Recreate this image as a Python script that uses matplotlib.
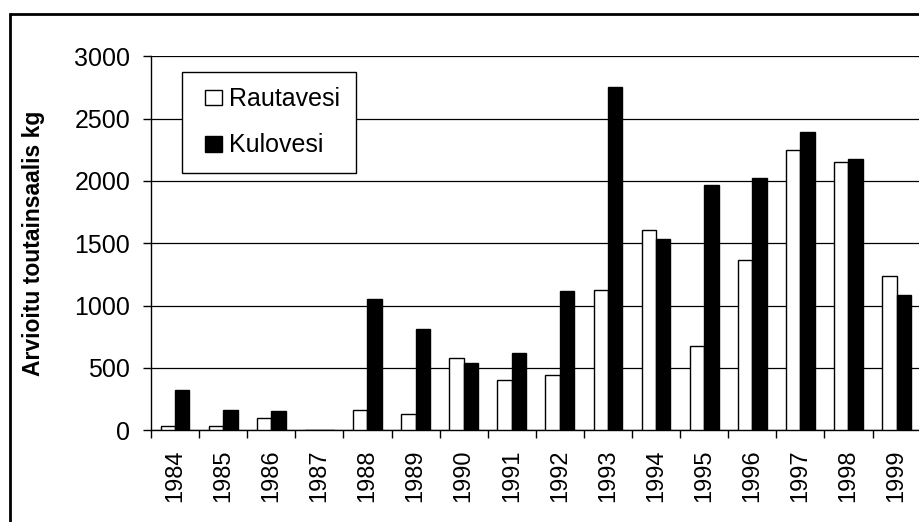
import matplotlib
matplotlib.use("Agg")
import matplotlib.pyplot as plt
import matplotlib.patches as patches
from matplotlib.container import BarContainer
from matplotlib.legend_handler import HandlerPatch
import numpy as np

# data
years = ["1984", "1985", "1986", "1987", "1988", "1989", "1990", "1991",
         "1992", "1993", "1994", "1995", "1996", "1997", "1998", "1999"]
rautavesi = [35, 35, 100, 0, 163, 133, 582, 406,
             441, 1128, 1609, 679, 1368, 2248, 2152, 1238]
kulovesi = [325, 165, 152, 0, 1051, 810, 537, 618,
            1115, 2751, 1532, 1965, 2026, 2395, 2174, 1083]

plt.rcParams['font.family'] = ['Liberation Sans', 'DejaVu Sans']

fig = plt.figure(figsize=(9.2, 5.22), dpi=100)
W, H = 920, 522
ax = fig.add_axes([151 / W, (H - 430.3) / H, 769.6 / W, 374 / H])

x = np.arange(len(years))
bw = 0.3
ax.bar(x - bw / 2, rautavesi, bw, color='white', edgecolor='black',
       linewidth=1.0, label='Rautavesi', zorder=3)
ax.bar(x + bw / 2, kulovesi, bw, color='black', edgecolor='black',
       linewidth=1.0, label='Kulovesi', zorder=3)

ax.set_xlim(-0.5, len(years) - 0.5)
ax.set_ylim(0, 3000)
ax.set_yticks(np.arange(0, 3001, 500))
ax.yaxis.grid(True, color='black', linewidth=0.9, zorder=0)
ax.set_axisbelow(True)

ax.set_xticks(x)
ax.set_xticklabels(years, rotation=90)
ax.set_xticks(np.arange(-0.5, len(years)), minor=True)
ax.tick_params(axis='x', which='major', length=0, pad=14, labelsize=17)
ax.tick_params(axis='x', which='minor', length=6, width=1, direction='out')
ax.tick_params(axis='y', length=6, width=1, pad=9, labelsize=18)

for s in ['top', 'right']:
    ax.spines[s].set_visible(False)
ax.spines['left'].set_linewidth(1)
ax.spines['bottom'].set_linewidth(1)

ax.set_ylabel('Arvioitu toutainsaalis kg', fontsize=16.5, fontweight='bold')
ax.yaxis.set_label_coords(-0.138, 0.5)


# small square legend key sitting at the right of its handle box
def square_key(legend, orig_handle, xdescent, ydescent, width, height, fontsize):
    sw = 0.67 * fontsize
    sh = 0.62 * fontsize
    return patches.Rectangle((-xdescent + width - sw, -ydescent + (height - sh) / 2),
                             sw, sh)


def from_first_bar(legend_handle, orig_handle):
    legend_handle.update_from(orig_handle[0])


leg = ax.legend(loc='upper left', bbox_to_anchor=(182 / W, 1 - 72 / H),
                bbox_transform=fig.transFigure, borderaxespad=0,
                fontsize=18, frameon=True, fancybox=False, framealpha=1,
                edgecolor='black', handlelength=1.0, handleheight=0.7,
                handletextpad=0.3, labelspacing=0.9, borderpad=0.6,
                handler_map={BarContainer: HandlerPatch(patch_func=square_key,
                                                        update_func=from_first_bar)})
leg.get_frame().set_linewidth(1)

# outer chart frame (cut off at right and bottom in the reference)
fig.patches.append(patches.Rectangle((10 / W, -0.1), 1.2, 1 - 14 / H + 0.1,
                                     transform=fig.transFigure, fill=False,
                                     edgecolor='black', linewidth=2))

fig.savefig('out.png', dpi=100)
